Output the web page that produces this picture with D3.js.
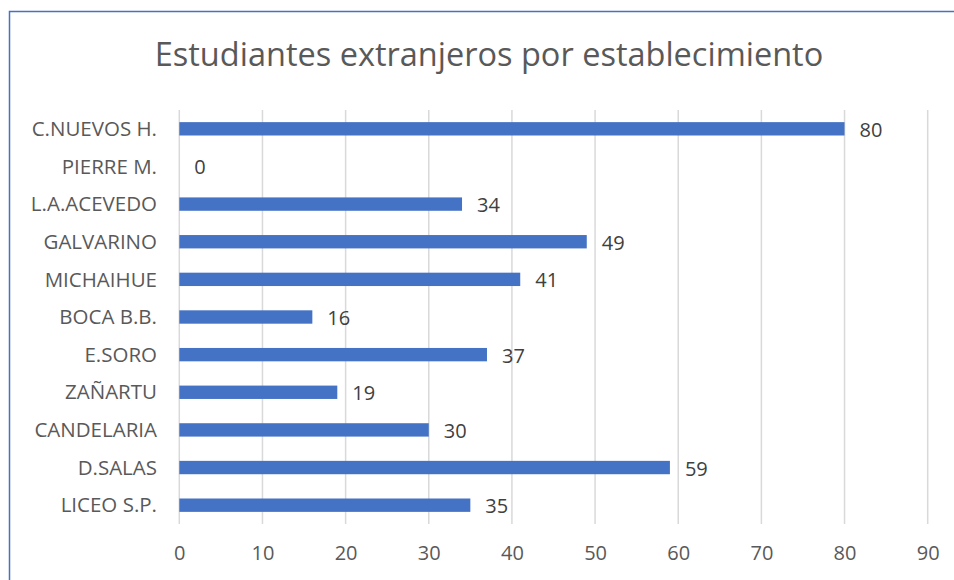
<!DOCTYPE html>
<html><head><meta charset="utf-8">
<script src="https://cdn.jsdelivr.net/npm/d3@7"></script>
<style>body{margin:0;background:#fff;} svg{display:block;}</style>
</head><body>
<svg id="c" width="954" height="580"></svg>
<script>
const categories = ["C.NUEVOS H.","PIERRE M.","L.A.ACEVEDO","GALVARINO","MICHAIHUE","BOCA B.B.","E.SORO","ZAÑARTU","CANDELARIA","D.SALAS","LICEO S.P."];
const values = [80,0,34,49,41,16,37,19,30,59,35];
const xTicks = [0,10,20,30,40,50,60,70,80,90];
const title = "Estudiantes extranjeros por establecimiento";

const svg = d3.select("#c");
const font = "'Open Sans', sans-serif";
svg.append("rect").attr("x",9.5).attr("y",11.5).attr("width",960).attr("height",600).attr("fill","#fff").attr("stroke","#4472C4").attr("stroke-width",1.5);

const m = {left:179.3, right:927.7, top:110, bottom:524};
const x = d3.scaleLinear().domain([0,90]).range([m.left,m.right]);
const y = d3.scaleBand().domain(categories).range([m.top,m.bottom]).paddingInner(0.645).paddingOuter(0.3225);

svg.append("text").attr("x",489).attr("y",66).attr("text-anchor","middle")
  .attr("font-family",font).attr("font-size",32.5).attr("fill","#595959").text(title);

const g = svg.append("g");
g.selectAll("line.grid").data(xTicks).join("line").attr("class","grid")
  .attr("x1",d=>x(d)).attr("x2",d=>x(d)).attr("y1",m.top).attr("y2",m.bottom)
  .attr("stroke","#d9d9d9").attr("stroke-width",1.5);

const ax = d3.axisBottom(x).tickValues(xTicks).tickSize(0).tickPadding(0);
const axg = svg.append("g").attr("transform",`translate(0,${m.bottom})`).call(ax);
axg.select(".domain").remove();
axg.selectAll("text").attr("font-family",font).attr("font-size",20).attr("fill","#595959").attr("dy",0).attr("y",36);

const ay = d3.axisLeft(y).tickSize(0).tickPadding(0);
const ayg = svg.append("g").attr("transform",`translate(157,0)`).call(ay);
ayg.select(".domain").remove();
ayg.selectAll("text").attr("font-family",font).attr("font-size",20.5).attr("fill","#595959").attr("dy","0.35em");

g.selectAll("rect.bar").data(values).join("rect").attr("class","bar")
  .attr("x",x(0)).attr("y",(d,i)=>y(categories[i])).attr("width",d=>x(d)-x(0)).attr("height",y.bandwidth())
  .attr("fill","#4472C4");

g.selectAll("text.val").data(values).join("text").attr("class","val")
  .attr("x",d=>x(d)+15).attr("y",(d,i)=>y(categories[i])+y.bandwidth()/2+1)
  .attr("dy","0.35em").attr("font-family",font).attr("font-size",20).attr("fill","#404040").text(d=>d);
</script>
</body></html>
